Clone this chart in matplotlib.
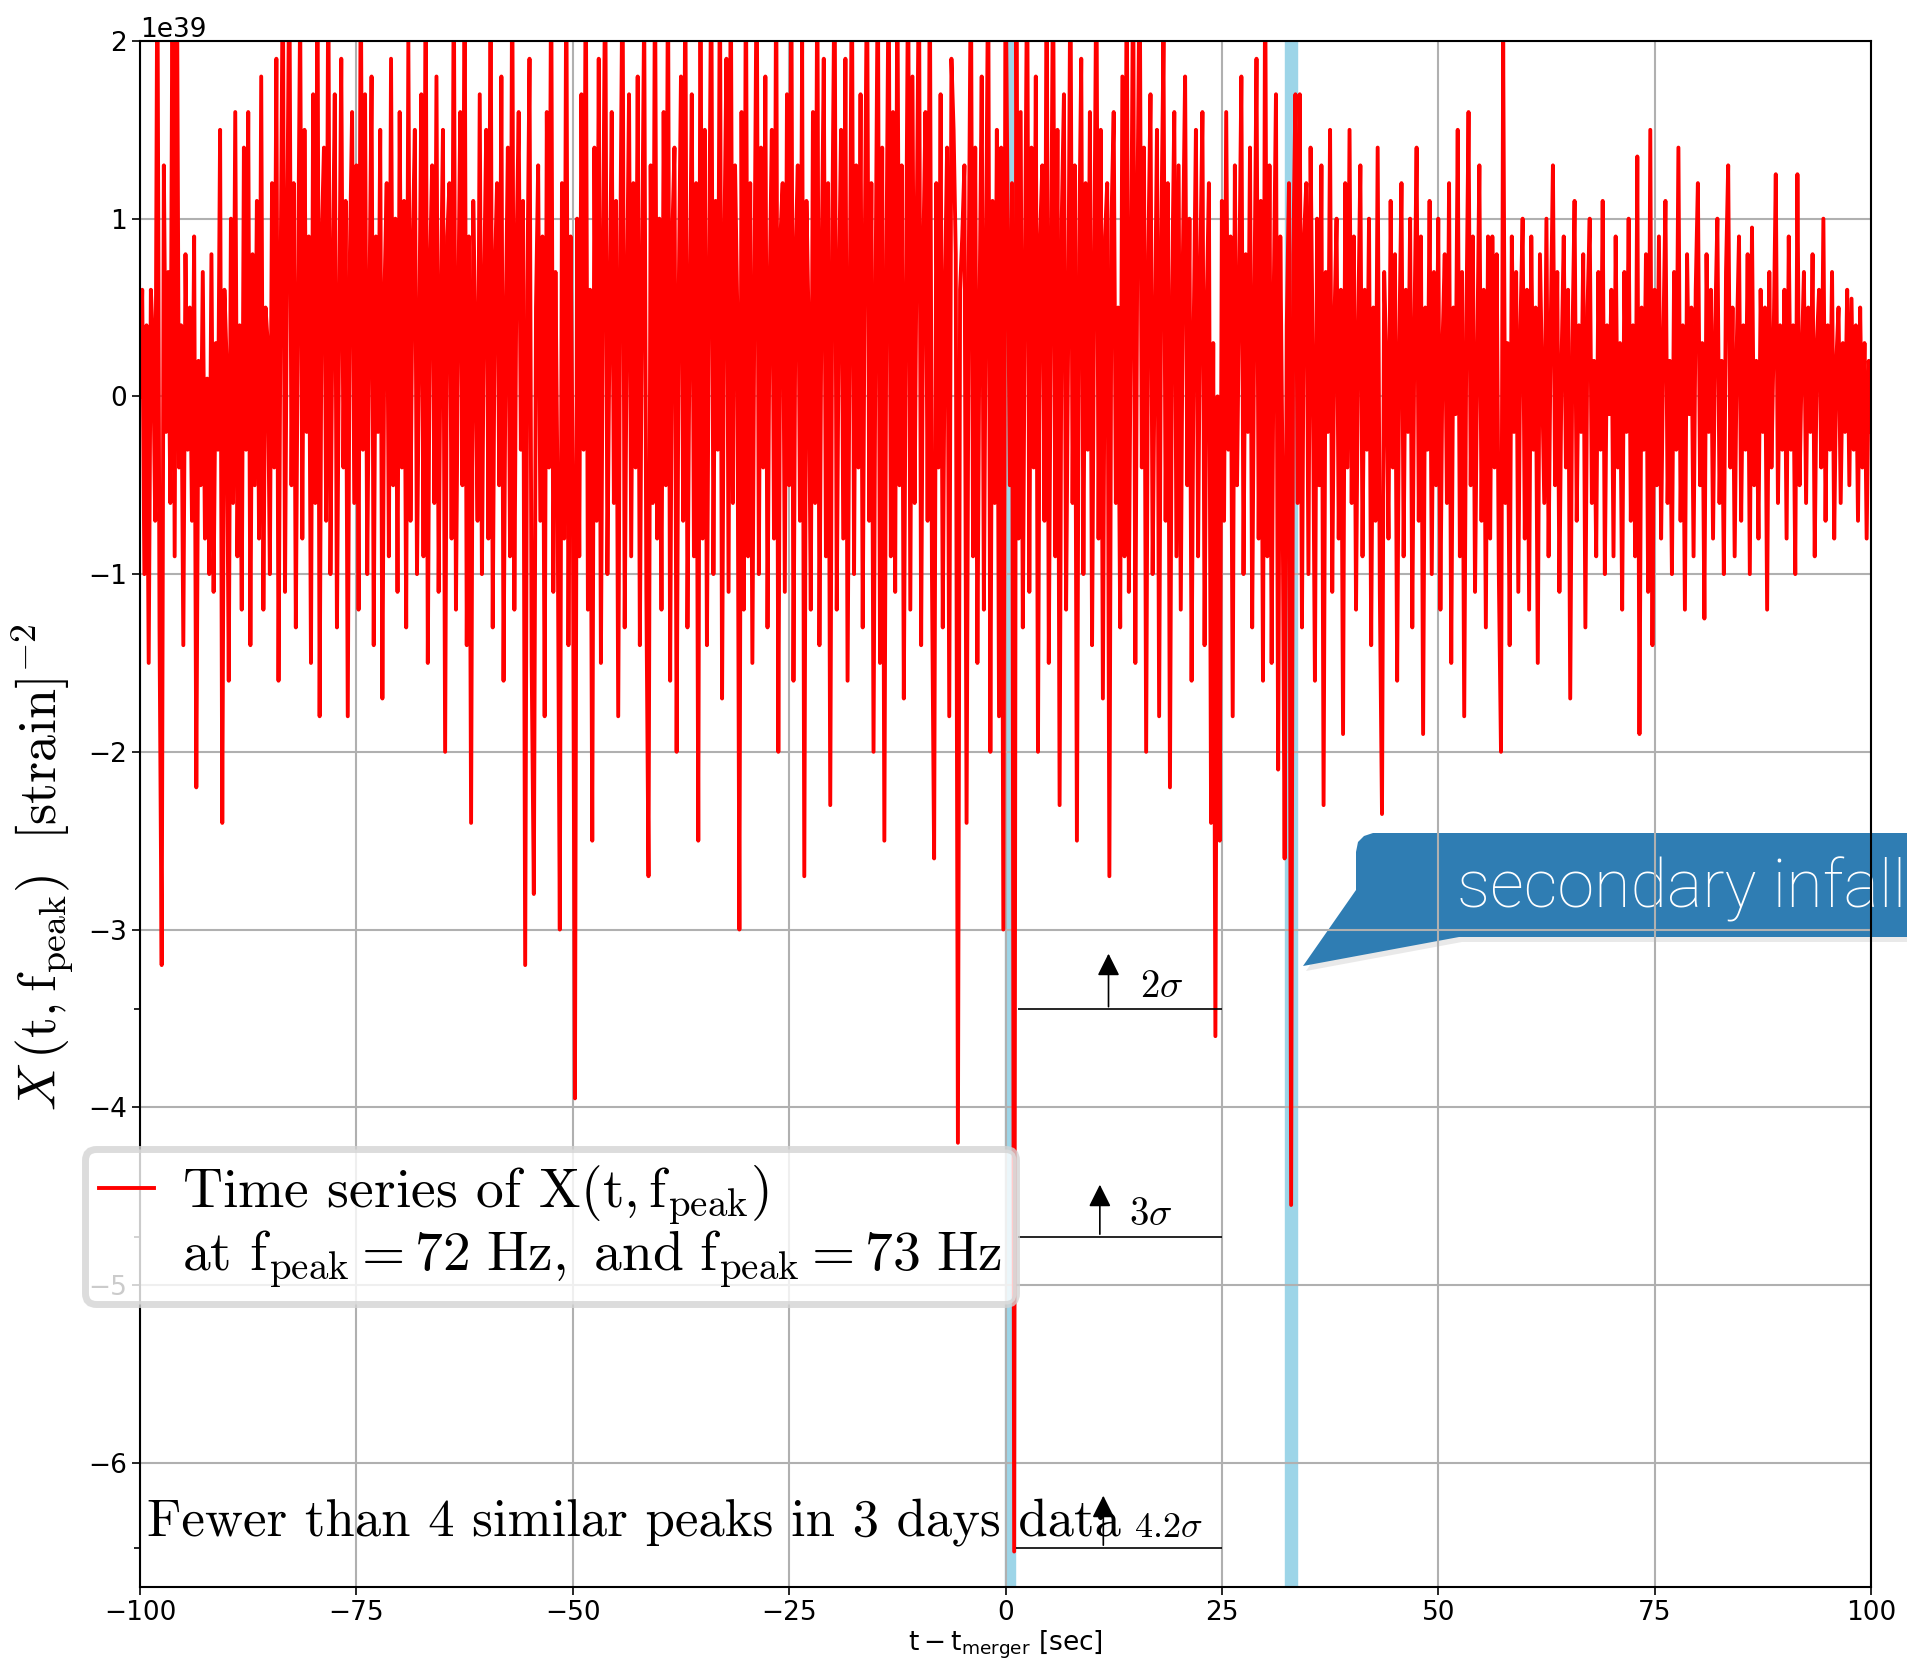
import numpy as np
import matplotlib.pyplot as plt
from matplotlib.patches import Polygon
from matplotlib.lines import Line2D

plt.rcParams['mathtext.fontset'] = 'cm'

# X(t, f_peak) in units of 1e39, sampled every 0.25 s, one list per 10 s
seg_m100 = [0.0, 0.6, -1.0, 0.4, -1.5, 0.6, 0.3, -0.7, 2.6, -1.3, -3.2, 1.3, -0.2, 0.7, -0.6, 2.5, -0.9, 2.6, -0.4, 0.4,
            -1.4, 0.8, -0.3, 0.5, -0.7, 0.9, -2.2, 0.2, -0.5, 0.7, -0.8, 0.1, -1.0, 0.8, -1.1, 0.3, -0.3, 1.5, -2.4, 0.6]
seg_m90 = [0.2, -1.6, 1.0, -0.6, 1.6, -0.9, 0.4, -1.2, 1.4, -0.3, 1.6, -1.4, 0.8, -0.5, 1.1, -0.8, 1.8, -1.2, 0.5, 0.3,
           -1.0, 1.2, -0.4, 1.9, -1.6, 0.7, 2.5, -1.1, 0.9, 2.5, -0.5, 1.2, -1.3, 0.6, 2.2, -0.8, 1.5, -0.2, 0.9, -1.5]
seg_m80 = [1.7, -0.6, 2.5, -1.8, 0.9, 1.4, -0.7, 2.5, -1.0, 0.6, 1.7, -1.3, 0.4, 1.9, -0.4, 1.1, -1.8, 0.8, 1.6, -0.6,
           1.3, -1.2, 2.5, -0.3, 1.7, -1.0, 0.5, 1.8, -1.4, 0.9, -0.2, 1.5, -1.7, 0.6, 1.2, -0.9, 1.9, -0.5, 1.0, -1.1]
seg_m70 = [1.6, -0.4, 1.1, -1.3, 2.0, -0.7, 0.8, 1.5, -1.0, 0.3, 1.7, -0.9, 2.5, -1.5, 0.7, 1.3, -0.6, 1.8, -1.1, 0.5,
           1.5, -2.0, 0.9, 1.2, -0.8, 2.5, -1.2, 0.4, 1.6, -0.5, 2.5, -1.4, 0.9, -2.4, 1.1, 0.3, -0.7, 1.7, -1.0, 0.6]
seg_m60 = [1.5, -0.8, 2.5, -1.3, 0.7, 1.2, -0.5, 1.8, -1.6, 0.4, 1.4, -0.9, 2.5, -1.2, 0.8, 1.6, -0.3, 1.1, -3.2, 0.6,
           1.9, -1.5, -2.8, 0.5, 1.3, -0.7, 0.9, -1.8, 1.6, -0.4, 2.5, -1.1, 0.7, -0.6, -3.0, 1.2, -0.8, 2.5, -1.4, 0.9]
seg_m50 = [-0.5, -3.95, 1.0, -0.9, 1.7, -0.3, 2.5, -1.2, 0.6, -2.5, 1.4, -0.7, 1.9, -1.5, 0.8, 2.5, -1.0, 0.4, 1.6, -0.6,
           1.1, -1.8, 0.9, 2.5, -1.3, 0.5, 1.7, -0.9, 1.2, -0.4, 1.8, -1.4, 0.7, 2.2, -1.1, -2.7, 1.3, -0.6, 2.5, -0.8]
seg_m40 = [1.0, -1.2, 1.6, -0.5, 2.5, -1.6, 0.9, 1.4, -2.0, 0.6, 1.8, -0.7, 2.5, -1.3, 0.4, 1.7, -0.9, 1.2, -2.5, 2.5,
           -0.8, 1.5, -1.4, 0.7, 2.5, -1.0, 1.1, -0.3, 2.5, -1.7, 0.8, 1.9, -1.1, 2.5, -0.6, 1.3, 0.5, -3.0, 1.6, -1.2]
seg_m30 = [2.5, -0.9, 1.2, -1.5, 0.7, 2.5, -1.0, 1.4, -0.4, 1.8, -1.3, 0.6, 1.5, -0.8, 2.5, -2.0, 0.9, 1.2, -1.1, 1.7,
           -0.5, 2.5, -1.6, 0.8, 1.3, -0.7, 2.0, -2.7, 1.1, 0.4, -1.2, 1.6, -0.6, 2.5, -1.4, 0.7, 1.9, -0.9, 1.2, -2.3]
seg_m20 = [1.0, 2.5, -1.2, 0.6, 1.5, -0.8, 1.9, -1.6, 0.5, 2.5, -1.0, 1.3, -0.4, 1.7, -1.3, 0.9, 2.5, -0.7, 1.2, -2.0,
           0.7, 2.5, -1.5, 1.4, -2.5, 0.8, 2.5, -0.9, 1.6, -1.1, 2.5, -0.5, 1.3, -1.7, 0.6, 2.5, -1.2, 1.8, -0.6, 1.0]
seg_m10 = [2.5, -1.4, 0.8, 1.6, -0.7, 2.5, -1.0, -2.6, 1.2, -0.4, 1.7, -1.3, 0.6, 1.4, -1.8, 1.9, 1.5, 0.8, -4.2, 0.6,
           0.9, 1.3, -2.4, 0.7, 2.5, -0.9, 1.4, -1.5, 0.5, 1.8, -1.2, 0.8, 2.5, -2.0, 1.1, -0.6, 1.5, -1.8, 1.4, -3.0]
seg_p0 = [2.5, 1.0, -0.5, 1.2, -6.5, 2.5, -0.8, 1.6, -1.3, 0.7, 2.5, -1.1, 1.4, -0.4, 1.8, -2.0, 0.9, 1.3, -0.7, 2.5,
          -1.5, 0.6, 2.5, -0.9, 1.5, -2.3, 1.0, 1.7, -1.2, 0.4, 2.5, -0.6, 1.3, -2.5, 0.8, 1.9, -1.0, 1.2, -0.3, 1.6]
seg_p10 = [-1.4, 0.7, 2.5, -0.8, 1.5, -1.7, 0.9, 1.2, -2.7, 1.0, 1.6, -0.6, 0.5, -1.3, 1.8, -0.9, 2.5, -1.1, 0.6, 2.5,
           -1.5, 1.1, 2.5, -0.4, 1.4, -2.0, 0.8, 1.7, -1.0, 0.3, 1.5, -1.8, 0.9, 2.0, -0.7, 1.2, -2.2, 0.6, 1.6, -0.9]
seg_p20 = [1.3, -1.2, 0.8, 1.8, -0.5, 1.0, -1.6, 0.4, 1.5, -0.9, 0.7, 1.6, -1.4, 0.5, 1.2, -2.4, 0.3, -3.6, 0.0, -2.5,
           1.1, -0.7, 1.6, -0.3, 0.9, -1.8, 1.3, -0.5, 0.6, 1.8, -1.0, 0.8, -0.2, 1.4, -1.3, 0.5, 1.9, -0.8, 1.1, -1.6]
seg_p30 = [2.5, -0.9, 1.3, -1.5, 0.6, 1.7, -2.1, 0.9, -0.4, -2.6, 0.4, 1.2, -4.55, 0.8, 1.7, -0.6, 1.7, -1.3, 0.9, 1.2,
           -1.0, 1.4, 0.2, -1.6, 1.0, -0.5, 1.3, -2.3, 0.7, -0.2, 1.5, -1.1, 0.4, 1.0, -0.8, 0.6, -1.9, 1.2, -0.4, 1.5]
seg_p40 = [-0.6, 0.9, -1.2, 0.4, 1.3, -0.9, 0.6, -0.3, 1.0, -1.4, 0.5, -0.7, 1.4, -1.1, -2.35, 0.7, 0.2, -0.8, 1.1, -0.4,
           0.8, -1.6, 0.3, 1.2, -0.9, 0.6, -0.2, 1.0, -1.3, 0.4, 1.4, -0.7, 0.9, -1.9, 0.5, -0.3, 1.1, -1.0, 0.7, -0.5]
seg_p50 = [1.0, -1.2, 0.3, 0.8, -0.6, 1.2, -1.5, 0.5, -0.1, 1.5, -0.9, 0.7, -1.8, 0.4, 1.6, -0.5, 0.9, -1.1, 0.2, 1.3,
           -0.7, 0.6, -1.3, 0.9, -0.8, 0.9, -0.4, 0.8, -1.0, -2.0, 2.0, -0.6, 0.3, -1.4, 0.9, -0.2, 0.7, -1.1, 0.4, 1.0]
seg_p60 = [-0.8, 0.6, -1.2, 0.9, -0.3, 0.5, -1.5, 0.8, 0.1, -0.6, 1.0, -0.9, 0.4, 1.3, -0.5, 0.7, -1.1, 0.2, 0.9, -0.4,
           0.6, -1.7, 0.3, 1.1, -0.7, 0.4, -0.2, 0.8, -1.3, 0.5, 1.0, -0.6, 0.2, -0.9, 0.7, -0.3, 1.1, -1.0, 0.4, -0.1]
seg_p70 = [0.6, -0.9, 0.9, -0.4, 0.3, -1.2, 0.7, -0.2, 1.0, -0.7, 0.4, -0.9, 1.35, -1.9, 0.5, -0.3, 0.8, -1.1, 1.5, -1.4,
           0.6, -0.5, 0.9, -0.8, 0.3, 1.1, -0.6, 0.2, -1.0, 0.7, -0.3, 1.4, -0.7, 0.4, -1.2, 0.8, -0.1, 0.5, -0.9, 0.6]
seg_p80 = [1.2, -0.5, 0.3, -1.25, 0.8, -0.2, 0.6, -0.8, 0.4, 1.0, -0.6, 0.2, -1.0, 0.7, 1.3, -0.4, 0.5, -0.9, 0.3, 0.9,
           -0.7, 0.4, -0.3, 0.8, -1.0, 0.95, -0.5, 0.2, -0.8, 0.6, -0.2, 0.5, -1.2, 0.7, -0.4, 0.3, 1.25, -0.6, 0.4, -0.3]
seg_p90 = [0.6, -0.8, 0.9, -0.3, 0.4, -1.0, 1.25, -0.5, 0.2, 0.7, -0.6, 0.5, -0.2, 0.8, -0.9, 0.3, 0.6, -0.4, 1.0, -0.7,
           0.4, -0.3, 0.7, -0.8, 0.2, 0.5, -0.6, 0.3, -0.2, 0.6, -0.5, 0.55, -0.3, 0.4, -0.7, 0.5, -0.4, 0.3, -0.8, 0.2, -0.2]

segments = [seg_m100, seg_m90, seg_m80, seg_m70, seg_m60, seg_m50, seg_m40, seg_m30, seg_m20, seg_m10,
            seg_p0, seg_p10, seg_p20, seg_p30, seg_p40, seg_p50, seg_p60, seg_p70, seg_p80, seg_p90]

X = np.concatenate([np.array(s) for s in segments]) * 1e39
t = np.linspace(-100, 100, len(X))

# sigma thresholds (units of 1e39)
sigma_levels = [-3.45, -4.73, -6.48]
sigma_labels = [r'$2\sigma$', r'$3\sigma$', r'$4.2\sigma$']
sigma_label_x = [15.5, 14.3, 14.8]
sigma_label_y = [-3.38, -4.66, -6.42]
sigma_label_size = [28, 28, 26]
arrow_x = [11.9, 10.9, 11.3]
arrow_top = [-3.12, -4.42, -6.17]
line_start = [1.5, 1.5, 1.2]

bands = [(-0.1, 1.05), (32.25, 33.66)]

fig = plt.figure(figsize=(19.08, 16.72), dpi=100)
ax = fig.add_axes([0.0734, 0.0508, 0.9072, 0.9247])

for a, b in bands:
    ax.axvspan(a, b, color='#9dd5e8', zorder=1)

line, = ax.plot(t, X, color='red', lw=2.8, zorder=2)

for y, x0, ax_, at, lab, lx, ly, ls in zip(sigma_levels, line_start, arrow_x, arrow_top,
                                          sigma_labels, sigma_label_x, sigma_label_y, sigma_label_size):
    ax.hlines(y * 1e39, x0, 25, color='k', lw=1.2, zorder=3)
    ax.annotate('', xy=(ax_, at * 1e39), xytext=(ax_, y * 1e39),
                arrowprops=dict(arrowstyle='-|>', color='k', lw=1.2, mutation_scale=34), zorder=3)
    ax.text(lx, ly * 1e39, lab, fontsize=ls, va='baseline', ha='left', zorder=3)

ax.text(-99.2, -6.41e39, 'Fewer than 4 similar peaks in 3 days data', fontfamily='cmr10',
        fontsize=38, va='baseline', ha='left', zorder=3)

ax.set_xlim(-100, 100)
ax.set_ylim(-6.7e39, 2e39)
ax.set_xticks(np.arange(-100, 101, 25))
ax.set_yticks(np.arange(-6, 3) * 1e39)
ax.set_yticks([v * 1e39 for v in sigma_levels], minor=True)
ax.tick_params(labelsize=19, width=1.2, length=6)
ax.tick_params(which='minor', length=4, width=1.2)
ax.yaxis.get_offset_text().set_fontsize(19)
ax.grid(True, color='#b0b0b0', lw=1.5)
for sp in ax.spines.values():
    sp.set_linewidth(1.5)

ax.set_xlabel(r'$\mathrm{t - t_{merger}}$ [sec]', fontsize=19, math_fontfamily='dejavusans', labelpad=2)
ax.set_ylabel(r'$X\,(\mathrm{t, f_{peak}})\ \ [\mathrm{strain}]^{-2}$', fontsize=39)
ax.yaxis.set_label_coords(-0.037, 0.466)

blank = Line2D([], [], color='none')
leg = ax.legend([line, blank],
                ['Time series of $\\mathrm{X(t, f_{peak})}$',
                 'at $\\mathrm{f_{peak} = 72\\ Hz,\\ and\\ f_{peak} = 73\\ Hz}$'],
                loc='upper left', bbox_to_anchor=(85 / 1908, 1 - 1149 / 1672),
                bbox_transform=fig.transFigure, borderaxespad=0,
                prop={'family': 'cmr10', 'size': 40}, handlelength=1.0, handletextpad=0.5,
                labelspacing=0.02, fancybox=True, framealpha=0.8, borderpad=0.25)
leg.get_frame().set_edgecolor('#d4d4d4')
leg.get_frame().set_linewidth(5)
leg.set_zorder(5)

# "secondary infall" callout (figure pixel coordinates)
W, H = 1908, 1672
shape = [(1356, 852), (1358, 842), (1364, 836), (1373, 833), (1920, 833), (1920, 937),
         (1459, 937), (1303, 966), (1356, 890)]
shadow = [(x + 3, y + 5) for x, y in shape]
to_fig = lambda pts: [(x / W, 1 - y / H) for x, y in pts]
ax.add_patch(Polygon(to_fig(shadow), closed=True, transform=fig.transFigure, clip_on=False,
                     facecolor='#888888', alpha=0.18, edgecolor='none', zorder=1.05))
ax.add_patch(Polygon(to_fig(shape), closed=True, transform=fig.transFigure, clip_on=False,
                     facecolor='#2f7db3', edgecolor='none', zorder=1.1))
ax.text(1906 / W, 1 - 908 / H, 'secondary infall', transform=fig.transFigure, color='white',
        fontfamily='Roboto', fontweight='light', fontsize=48, va='baseline', ha='right',
        clip_on=False, zorder=1.2)

fig.savefig('out.png', dpi=100)
